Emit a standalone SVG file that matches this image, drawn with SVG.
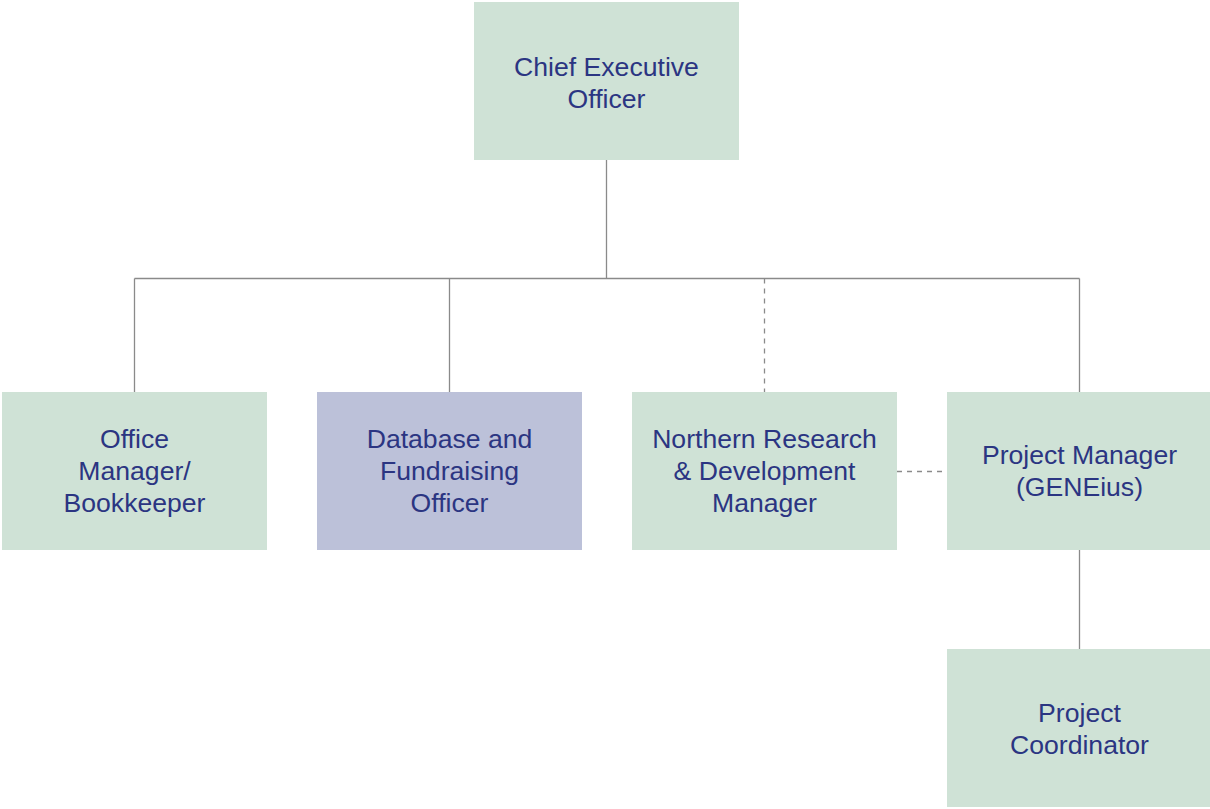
<svg xmlns="http://www.w3.org/2000/svg" width="1210" height="809" viewBox="0 0 1210 809">
  <style>
    .box { fill: #cfe2d6; }
    .box.alt { fill: #bcc1d9; }
    .lbl { font-family: "Liberation Sans", Arial, sans-serif; font-size: 26.6px; fill: #2b3582; text-anchor: middle; }
    .ln { stroke: #8a8a8a; stroke-width: 1.3; fill: none; }
    .dash { stroke-dasharray: 5 5; }
  </style>
  <rect width="1210" height="809" fill="#ffffff"/>
  <g id="connectors">
    <path class="ln" d="M606.5 160 V278.5 M134.5 278.5 H1079.5 M134.5 278.5 V392 M449.5 278.5 V392 M1079.5 278.5 V392 M1079.5 550 V649"/>
    <path class="ln dash" d="M764.5 278.5 V392 M897 471.5 H947"/>
  </g>
  <g id="ceo">
    <rect class="box" x="474" y="2" width="265" height="158"/>
    <text class="lbl" x="606.5" y="76">Chief Executive</text>
    <text class="lbl" x="606.5" y="108">Officer</text>
  </g>
  <g id="office-manager">
    <rect class="box" x="2" y="392" width="265" height="158"/>
    <text class="lbl" x="134.5" y="448">Office</text>
    <text class="lbl" x="134.5" y="480">Manager/</text>
    <text class="lbl" x="134.5" y="512">Bookkeeper</text>
  </g>
  <g id="database-officer">
    <rect class="box alt" x="317" y="392" width="265" height="158"/>
    <text class="lbl" x="449.5" y="448">Database and</text>
    <text class="lbl" x="449.5" y="480">Fundraising</text>
    <text class="lbl" x="449.5" y="512">Officer</text>
  </g>
  <g id="northern-rd">
    <rect class="box" x="632" y="392" width="265" height="158"/>
    <text class="lbl" x="764.5" y="448">Northern Research</text>
    <text class="lbl" x="764.5" y="480">&amp; Development</text>
    <text class="lbl" x="764.5" y="512">Manager</text>
  </g>
  <g id="project-manager">
    <rect class="box" x="947" y="392" width="265" height="158"/>
    <text class="lbl" x="1079.5" y="464">Project Manager</text>
    <text class="lbl" x="1079.5" y="496">(GENEius)</text>
  </g>
  <g id="project-coordinator">
    <rect class="box" x="947" y="649" width="265" height="158"/>
    <text class="lbl" x="1079.5" y="722">Project</text>
    <text class="lbl" x="1079.5" y="754">Coordinator</text>
  </g>
</svg>
